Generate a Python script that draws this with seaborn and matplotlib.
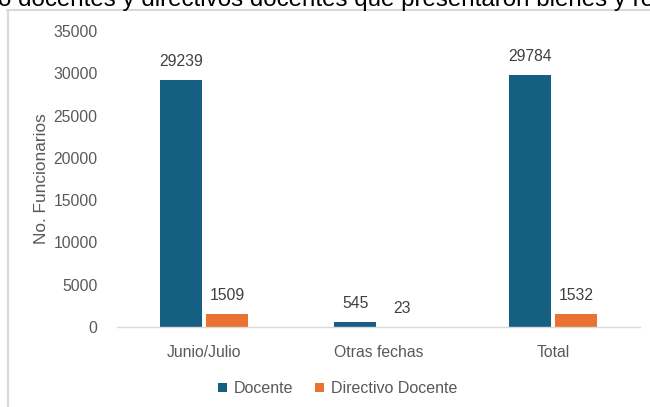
import pandas as pd
import matplotlib.pyplot as plt
import seaborn as sns
from matplotlib.lines import Line2D

categorias = ['Junio/Julio', 'Otras fechas', 'Total']
docente = [29239, 545, 29784]
directivo = [1509, 23, 1532]
series = ['Docente', 'Directivo Docente']
yticks = [0, 5000, 10000, 15000, 20000, 25000, 30000, 35000]

df = pd.DataFrame({
    'Periodo': categorias * 2,
    'Cargo': [series[0]] * 3 + [series[1]] * 3,
    'Valor': docente + directivo,
})

sns.set_style('white')
plt.rcParams['font.family'] = ['Liberation Sans', 'DejaVu Sans']

fig = plt.figure(figsize=(6.5, 4.07), dpi=100)
ax = fig.add_axes([117 / 650, 1 - 327 / 407, 523 / 650, 296 / 407])

sns.barplot(data=df, x='Periodo', y='Valor', hue='Cargo', order=categorias,
            hue_order=series, palette=['#156082', '#E97132'], saturation=1,
            width=0.53, gap=0.09, linewidth=0, ax=ax, legend=True)

for cont in ax.containers:
    ax.bar_label(cont, labels=[f'{int(v)}' for v in cont.datavalues],
                 padding=8, fontsize=11.3, color='#404040')

ax.set_ylim(0, 35000)
ax.set_yticks(yticks)
ax.set_yticklabels([str(t) for t in yticks])
ax.tick_params(axis='both', length=0, labelsize=11.3, colors='#595959')
ax.tick_params(axis='y', pad=14)
ax.tick_params(axis='x', pad=13)
ax.set_xlabel('')
ax.set_ylabel('No. Funcionarios', fontsize=12.4, color='#595959', labelpad=3)
for s in ['top', 'right', 'left']:
    ax.spines[s].set_visible(False)
ax.spines['bottom'].set_color('#D9D9D9')
ax.spines['bottom'].set_linewidth(1)

ax.legend(loc='upper center', bbox_to_anchor=(0.422, -0.135), ncol=2, frameon=False,
          fontsize=11.5, labelcolor='#595959', handlelength=0.55, handleheight=0.55,
          handletextpad=0.4, columnspacing=1.4)

# frame of the chart area and the clipped title above it
fig.add_artist(Line2D([7 / 650, 1], [1 - 10 / 407] * 2, color='#D9D9D9', lw=1.5))
fig.add_artist(Line2D([7.5 / 650] * 2, [0, 1 - 10 / 407], color='#D9D9D9', lw=1.5))
fig.text(-0.003, 1 - 6 / 407, 'o docentes y directivos docentes que presentaron bienes y re',
         fontsize=17.4, color='black', va='baseline', ha='left')

fig.savefig('out.png', dpi=100)
